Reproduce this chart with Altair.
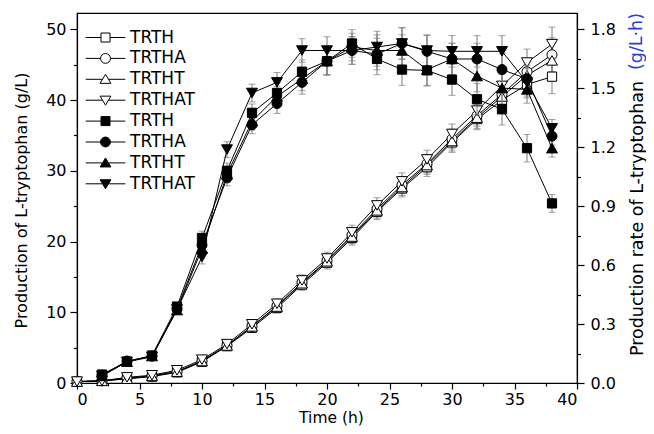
import altair as alt
import pandas as pd

# ---------------- data ----------------
strains = ["TRTH", "TRTHA", "TRTHT", "TRTHAT"]
marker_shapes = ["square", "circle", "triangle-up", "triangle-down"]

# production of L-tryptophan (g/L), open markers, left axis
time_prod = [0, 2, 4, 6, 8, 10, 12, 14, 16, 18, 20, 22, 24, 26, 28, 30, 32, 34, 36, 38]
prod_trth = [0.2, 0.3, 0.6, 0.9, 1.5, 3.0, 5.2, 7.8, 10.6, 13.9, 17.0, 20.5, 24.2, 27.5, 30.5, 34.0, 37.3, 40.0, 42.2, 43.3]
prod_trtha = [0.2, 0.3, 0.7, 1.0, 1.6, 3.1, 5.3, 8.0, 10.9, 14.2, 17.3, 20.9, 24.6, 28.0, 31.0, 34.5, 37.8, 40.8, 44.0, 46.4]
prod_trtht = [0.2, 0.3, 0.6, 1.0, 1.6, 3.1, 5.3, 8.0, 10.8, 14.1, 17.2, 20.7, 24.4, 27.7, 30.8, 34.2, 37.5, 40.5, 43.5, 45.6]
prod_trthat = [0.2, 0.3, 0.8, 1.1, 1.8, 3.3, 5.5, 8.3, 11.2, 14.5, 17.6, 21.3, 25.1, 28.5, 31.6, 35.2, 38.5, 42.0, 45.3, 47.9]
prod_err = [0.1, 0.1, 0.2, 0.3, 0.4, 0.5, 0.5, 0.6, 0.7, 0.8, 0.9, 1.0, 1.1, 1.2, 1.3, 1.4, 1.5, 1.7, 1.9, 2.4]

# production rate of L-tryptophan (g/L·h), filled markers, right axis
time_rate = [2, 4, 6, 8, 10, 12, 14, 16, 18, 20, 22, 24, 26, 28, 30, 32, 34, 36, 38]
rate_trth = [0.043, 0.108, 0.140, 0.389, 0.738, 1.080, 1.375, 1.476, 1.584, 1.638, 1.728, 1.649, 1.595, 1.591, 1.544, 1.444, 1.393, 1.195, 0.914]
rate_trtha = [0.040, 0.112, 0.137, 0.378, 0.702, 1.044, 1.314, 1.422, 1.530, 1.638, 1.692, 1.674, 1.728, 1.688, 1.649, 1.649, 1.595, 1.548, 1.256]
rate_trtht = [0.036, 0.108, 0.137, 0.371, 0.684, 1.062, 1.332, 1.458, 1.548, 1.638, 1.710, 1.692, 1.692, 1.595, 1.649, 1.562, 1.501, 1.494, 1.195]
rate_trthat = [0.036, 0.108, 0.133, 0.374, 0.641, 1.188, 1.476, 1.530, 1.692, 1.692, 1.692, 1.710, 1.728, 1.692, 1.688, 1.688, 1.688, 1.530, 1.296]
rate_err = [0.01, 0.01, 0.015, 0.02, 0.035, 0.04, 0.045, 0.05, 0.06, 0.07, 0.07, 0.08, 0.08, 0.08, 0.08, 0.08, 0.08, 0.07, 0.045]

x_ticks = [0, 2.5, 5, 7.5, 10, 12.5, 15, 17.5, 20, 22.5, 25, 27.5, 30, 32.5, 35, 37.5, 40]
left_ticks = [0, 5, 10, 15, 20, 25, 30, 35, 40, 45, 50]
right_ticks = [0, 0.15, 0.3, 0.45, 0.6, 0.75, 0.9, 1.05, 1.2, 1.35, 1.5, 1.65, 1.8]
rate_unit_text = "(g/L·h)"

# ---------------- styles ----------------
FONT = "DejaVu Sans"
marker_size = {"square": 85, "circle": 100, "triangle-up": 120, "triangle-down": 120}
legend_paths = {
    "square": "M-4.4,0H-1M1,0H4.4M-1,-1H1V1H-1Z",
    "circle": "M-4.4,0H-1.1M1.1,0H4.4M-1.1,0A1.1,1.1,0,1,0,1.1,0A1.1,1.1,0,1,0,-1.1,0Z",
    "triangle-up": "M-4.4,0H-0.66M0.66,0H4.4M0,-1.1L1.2,0.9H-1.2Z",
    "triangle-down": "M-4.4,0H-0.66M0.66,0H4.4M0,1.1L1.2,-0.9H-1.2Z",
}
ERR_COLOR = "#7a7a7a"

# ---------------- tables ----------------
def build(times, series, err, fill, kind):
    rows = []
    for strain, shape, vals in zip(strains, marker_shapes, series):
        for t, v, e in zip(times, vals, err):
            rows.append({"t": t, "v": v, "lo": v - e, "hi": v + e, "strain": strain,
                         "shape": shape, "fill": fill, "sz": marker_size[shape],
                         "key": f"{strain} {kind}"})
    return pd.DataFrame(rows)

df_prod = build(time_prod, [prod_trth, prod_trtha, prod_trtht, prod_trthat], prod_err, "white", "open")
df_rate = build(time_rate, [rate_trth, rate_trtha, rate_trtht, rate_trthat], rate_err, "black", "filled")

legend_keys = [f"{s} open" for s in strains] + [f"{s} filled" for s in strains]
legend_shapes = [legend_paths[m] for m in marker_shapes] * 2
legend_fills = ["white"] * 4 + ["black"] * 4

# ---------------- encodings ----------------
x_enc = alt.X("t:Q", scale=alt.Scale(domain=[0, 40], nice=False),
              axis=alt.Axis(values=x_ticks, format="d",
                            labelExpr="datum.value % 5 === 0 ? datum.label : ''",
                            tickSize={"condition": {"test": "datum.value % 5 === 0", "value": 6}, "value": 3},
                            title="Time (h)", titleFontSize=15.5, labelPadding=2,
                            titleX=254, titleY=39, titleBaseline="alphabetic", titleAnchor="middle"))

left_scale = alt.Scale(domain=[0, 52.3], nice=False)
right_scale = alt.Scale(domain=[0, 1.883], nice=False)

left_axis = alt.Axis(orient="left", values=left_ticks, format="d",
                     labelExpr="datum.value % 10 === 0 ? datum.label : ''",
                     tickSize={"condition": {"test": "datum.value % 10 === 0", "value": 7}, "value": 3.5},
                     labelPadding=4, title="Production of L-tryptophan (g/L)",
                     titleAngle=270, titleX=-55.5, titleY=187, titleAlign="center",
                     titleBaseline="middle", titleAnchor="middle")
right_axis = alt.Axis(orient="right", values=right_ticks, format=".1f",
                      labelExpr="abs(datum.value / 0.3 - round(datum.value / 0.3)) < 0.001 ? datum.label : ''",
                      tickSize={"condition": {"test": "abs(datum.value / 0.3 - round(datum.value / 0.3)) < 0.001", "value": 7}, "value": 3.5},
                      labelPadding=6, title="Production rate of L-tryptophan",
                      titleFontSize=17.5, titleAngle=270, titleX=60, titleY=205,
                      titleAlign="center", titleBaseline="middle", titleAnchor="middle")


def group(df, scale, axis, with_legend):
    base = alt.Chart(df)
    err = base.mark_rule(color=ERR_COLOR, strokeWidth=1).encode(
        x=x_enc, y=alt.Y("lo:Q", scale=scale, axis=axis), y2="hi:Q")
    cap_lo = base.mark_tick(color=ERR_COLOR, orient="horizontal", size=7, thickness=1).encode(
        x=x_enc, y=alt.Y("lo:Q", scale=scale, axis=axis))
    cap_hi = base.mark_tick(color=ERR_COLOR, orient="horizontal", size=7, thickness=1).encode(
        x=x_enc, y=alt.Y("hi:Q", scale=scale, axis=axis))
    line = base.mark_line(color="black", strokeWidth=1).encode(
        x=x_enc, y=alt.Y("v:Q", scale=scale, axis=axis), detail="strain:N")
    pts = base.mark_point(filled=True, stroke="black", strokeWidth=1, opacity=1).encode(
        x=x_enc, y=alt.Y("v:Q", scale=scale, axis=axis),
        shape=alt.Shape("shape:N", scale=None),
        fill=alt.Fill("fill:N", scale=None),
        size=alt.Size("sz:Q", scale=None))
    layers = [err, cap_lo, cap_hi, line, pts]
    if with_legend:
        leg = alt.Legend(title=None, orient="none", legendX=20, legendY=16,
                         labelExpr="split(datum.label, ' ')[0]",
                         labelFont=FONT, labelFontSize=17, labelColor="black",
                         symbolSize=81, symbolStrokeColor="black", symbolStrokeWidth=1,
                         labelOffset=16, rowPadding=2.9, padding=0)
        legend_layer = base.mark_point(filled=True, stroke="black", strokeWidth=1, size=81).encode(
            x=x_enc, y=alt.Y("v:Q", scale=scale, axis=axis),
            shape=alt.Shape("key:N", scale=alt.Scale(domain=legend_keys, range=legend_shapes), legend=leg),
            fill=alt.Fill("key:N", scale=alt.Scale(domain=legend_keys, range=legend_fills), legend=leg),
        ).transform_filter("false")
        layers.append(legend_layer)
    return alt.layer(*layers)


left = group(df_prod, left_scale, left_axis, True)
right = group(df_rate, right_scale, right_axis, False)

unit_text = alt.Chart(alt.Data(values=[{"label": rate_unit_text}])).mark_text(
    angle=270, align="center", baseline="middle", font=FONT, fontSize=17.5, color="#2a3fd8"
).encode(x=alt.value(560), y=alt.value(28.5), text="label:N")

chart = alt.layer(left, right, unit_text).resolve_scale(y="independent").properties(
    width=500, height=370,
    padding={"left": 69, "top": 5, "right": 69, "bottom": 43},
    autosize=alt.AutoSizeParams(type="none"),
).configure_axis(
    labelFont=FONT, titleFont=FONT, labelFontSize=16, titleFontSize=16,
    labelColor="black", titleColor="black", domainColor="black", tickColor="black",
    domainWidth=1.2, tickWidth=1.2, grid=False, titleFontWeight="normal",
).configure_view(stroke="black", strokeWidth=1.2)

chart.save("out.html", embed_options={"renderer": "svg", "actions": False})
